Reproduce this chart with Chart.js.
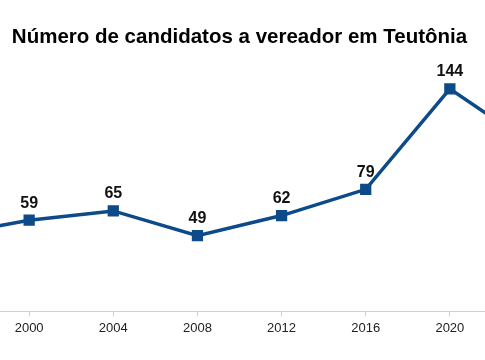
<!DOCTYPE html>
<html lang="pt">
<head>
    <meta charset="UTF-8">
    <title>Número de candidatos a vereador em Teutônia</title>
    <script src="https://cdn.jsdelivr.net/npm/chart.js"></script>
    <style>
        html, body {
            margin: 0;
            padding: 0;
            overflow: hidden;
            background: #fff;
            font-family: "Liberation Sans", Arial, sans-serif;
        }
        #wrap {
            position: absolute;
            left: -80px;
            top: 0;
            width: 640px;
            height: 360px;
        }
    </style>
</head>
<body>
<div id="wrap"><canvas id="chart"></canvas></div>
<script>
    // election years and number of candidates
    const years = ['1996', '2000', '2004', '2008', '2012', '2016', '2020', '2024'];
    const candidates = [49, 59, 65, 49, 62, 79, 144, 107];

    // draws the value above each point
    const valueLabels = {
        id: 'valueLabels',
        afterDatasetsDraw(chart) {
            const ctx = chart.ctx;
            const meta = chart.getDatasetMeta(0);
            ctx.save();
            ctx.font = 'bold 16px "Liberation Sans", Arial, sans-serif';
            ctx.fillStyle = '#111';
            ctx.textAlign = 'center';
            ctx.textBaseline = 'middle';
            meta.data.forEach((pt, i) => {
                ctx.fillText(String(candidates[i]), pt.x, pt.y - 17);
            });
            ctx.restore();
        }
    };

    const ctx = document.getElementById('chart').getContext('2d');
    new Chart(ctx, {
        type: 'line',
        data: {
            labels: years,
            datasets: [{
                data: candidates,
                borderColor: '#0d4a8a',
                backgroundColor: '#0d4a8a',
                borderWidth: 3.5,
                pointStyle: 'rect',
                pointRadius: 5.5,
                pointHoverRadius: 5.5,
                tension: 0
            }]
        },
        options: {
            responsive: true,
            maintainAspectRatio: false,
            animation: false,
            layout: {
                padding: { left: 25, right: 26, top: 0, bottom: 20 }
            },
            plugins: {
                legend: { display: false },
                tooltip: { enabled: false },
                title: {
                    display: true,
                    text: 'Número de candidatos a vereador em Teutônia',
                    color: '#000',
                    font: { size: 20.5, weight: 'bold', family: '"Liberation Sans", Arial, sans-serif' },
                    padding: { top: 25, bottom: 14.5 }
                }
            },
            scales: {
                x: {
                    grid: {
                        drawOnChartArea: false,
                        drawTicks: true,
                        tickLength: 5,
                        color: '#d0d0d0'
                    },
                    border: { color: '#d0d0d0', width: 1 },
                    ticks: {
                        color: '#222',
                        padding: 4,
                        font: { size: 13, family: '"Liberation Sans", Arial, sans-serif' }
                    }
                },
                y: {
                    display: false,
                    min: 0,
                    max: 160
                }
            }
        },
        plugins: [valueLabels]
    });
</script>
</body>
</html>
